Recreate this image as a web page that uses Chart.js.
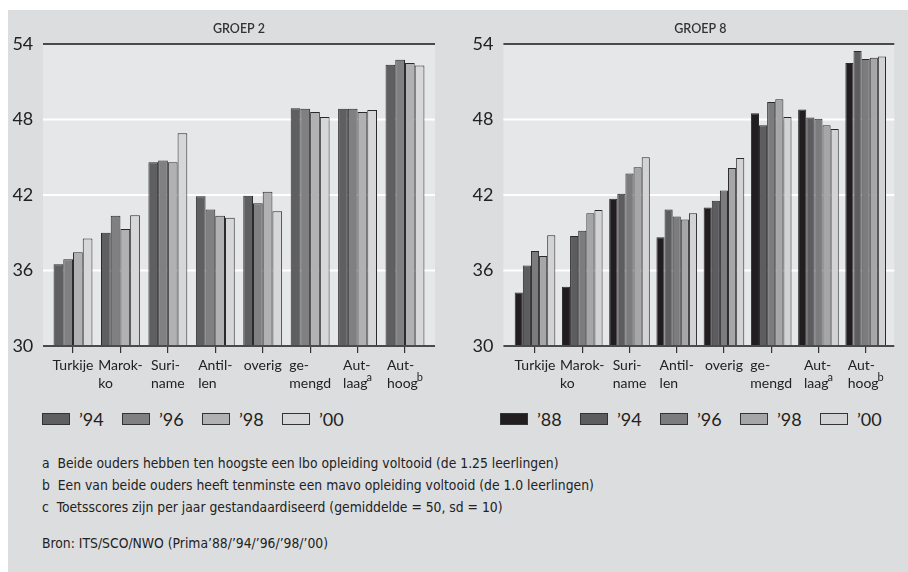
<!DOCTYPE html>
<html>
<head>
<meta charset="utf-8">
<script src="https://cdn.jsdelivr.net/npm/chart.js@4.4.1/dist/chart.umd.min.js"></script>
<style>
  html, body { margin: 0; padding: 0; background: #fff; }
  body { width: 908px; height: 572px; position: relative; overflow: hidden; font-family: Lato, sans-serif; color: #222; }
  #panel { position: absolute; left: 8px; top: 10px; right: 0; bottom: 0; background: #dcdddf; }
  .wrap { position: absolute; top: 0; width: 454px; height: 400px; }
  #wrap2 { left: 0; }
  #wrap8 { left: 454px; }
  .legend { position: absolute; top: 408px; display: flex; font-size: 18px; line-height: 22px; }
  .legend .item { display: flex; align-items: center; width: 80px; }
  .legend .box { width: 26px; height: 10px; border: 1px solid #333; margin-right: 9px; }
  #legend2 { left: 42px; }
  #legend8 { left: 500px; }
  .notes { position: absolute; left: 42px; font-family: "Liberation Sans Narrow", "DejaVu Sans Condensed", sans-serif; font-size: 14.5px; color: #222; white-space: nowrap; transform: scaleX(0.95); transform-origin: left center; }
</style>
</head>
<body>
<div id="panel"></div>
<div class="wrap" id="wrap2"><canvas id="groep2"></canvas></div>
<div class="wrap" id="wrap8"><canvas id="groep8"></canvas></div>
<div class="legend" id="legend2"></div>
<div class="legend" id="legend8"></div>
<div class="notes" style="top:455px">a&nbsp; Beide ouders hebben ten hoogste een lbo opleiding voltooid (de 1.25 leerlingen)</div>
<div class="notes" style="top:477px">b&nbsp; Een van beide ouders heeft tenminste een mavo opleiding voltooid (de 1.0 leerlingen)</div>
<div class="notes" style="top:499px">c&nbsp; Toetsscores zijn per jaar gestandaardiseerd (gemiddelde = 50, sd = 10)</div>
<div class="notes" style="top:535px">Bron: ITS/SCO/NWO (Prima’88/’94/’96/’98/’00)</div>
<script>
const categories = ['Turkije', 'Marok-\nko', 'Suri-\nname', 'Antil-\nlen', 'overig', 'ge-\nmengd', 'Aut-\nlaag^a', 'Aut-\nhoog^b'];
const yMin = 30;
const yMax = 54;
const yStep = 6;

// groep 2
const g2Years = ['’94', '’96', '’98', '’00'];
const g2_94 = [36.5, 39.0, 44.6, 41.9, 41.95, 48.9, 48.85, 52.35];
const g2_96 = [36.9, 40.35, 44.75, 40.85, 41.35, 48.85, 48.85, 52.75];
const g2_98 = [37.45, 39.3, 44.6, 40.35, 42.25, 48.6, 48.6, 52.5];
const g2_00 = [38.55, 40.4, 46.9, 40.2, 40.7, 48.2, 48.75, 52.3];
const g2Colors = ['#5f5f61', '#808083', '#b1b1b3', '#d7d7d9'];

// groep 8
const g8Years = ['’88', '’94', '’96', '’98', '’00'];
const g8_88 = [34.25, 34.7, 41.7, 38.65, 41.0, 48.5, 48.8, 52.5];
const g8_94 = [36.4, 38.75, 42.1, 40.85, 41.55, 47.55, 48.15, 53.45];
const g8_96 = [37.55, 39.15, 43.7, 40.3, 42.35, 49.4, 48.05, 52.8];
const g8_98 = [37.15, 40.55, 44.2, 40.05, 44.15, 49.6, 47.55, 52.9];
const g8_00 = [38.8, 40.8, 45.0, 40.55, 44.95, 48.2, 47.25, 53.0];
const g8Colors = ['#221e1f', '#5d5d5f', '#7c7c7f', '#a6a6a8', '#d3d3d5'];

const PLOT_BG = '#e6e7e9';
const DARK = '#4a4a4a';

// plot background + horizontal lines, a bit wider than the category area
const panelPlugin = {
  id: 'panel',
  beforeDatasetsDraw(chart, args, opts) {
    const { ctx, chartArea: a, scales: { y } } = chart;
    const l = a.left - opts.extLeft, r = a.right + opts.extRight;
    ctx.save();
    ctx.fillStyle = PLOT_BG;
    ctx.fillRect(l, a.top, r - l, a.bottom - a.top);
    y.ticks.forEach(t => {
      if (t.value === y.min) return;
      const py = y.getPixelForValue(t.value);
      ctx.strokeStyle = t.value === y.max ? DARK : '#fff';
      ctx.lineWidth = 2.2;
      ctx.beginPath();
      ctx.moveTo(l, py);
      ctx.lineTo(r, py);
      ctx.stroke();
    });
    ctx.restore();
  },
  afterDatasetsDraw(chart, args, opts) {
    const { ctx, chartArea: a, scales: { y } } = chart;
    const py = y.getPixelForValue(y.min);
    ctx.save();
    ctx.strokeStyle = DARK;
    ctx.lineWidth = 2;
    ctx.beginPath();
    ctx.moveTo(a.left - opts.extLeft, py);
    ctx.lineTo(a.right + opts.extRight, py);
    ctx.stroke();
    ctx.restore();
  }
};

// two-line category labels, lines left aligned, block centred on the tick
const labelPlugin = {
  id: 'catLabels',
  afterDraw(chart) {
    const { ctx, chartArea: a, scales: { x } } = chart;
    ctx.save();
    ctx.fillStyle = '#222';
    ctx.textBaseline = 'middle';
    ctx.textAlign = 'left';
    const font = '14px Lato';
    const supFont = '11px Lato';
    chart.data.labels.forEach((label, i) => {
      const lines = label.split('\n').map(s => s.split('^'));
      const widths = lines.map(([txt, sup]) => {
        ctx.font = font;
        let w = ctx.measureText(txt).width;
        if (sup) { ctx.font = supFont; w += ctx.measureText(sup).width - 1; }
        return w;
      });
      const px = x.getPixelForTick(i);
      const x0 = px - Math.max(...widths) / 2;
      lines.forEach(([txt, sup], k) => {
        const py = a.bottom + 19 + k * 18;
        ctx.font = font;
        ctx.fillText(txt, x0, py);
        if (sup) {
          const tw = ctx.measureText(txt).width;
          ctx.font = supFont;
          ctx.fillText(sup, x0 + tw - 1, py - 6);
        }
      });
    });
    ctx.restore();
  }
};

function makeChart(id, title, years, series, colors, axisWidth, padRight, extLeft, extRight, catPct, tickPad) {
  const datasets = series.map((data, i) => ({
    label: years[i],
    data,
    backgroundColor: colors[i],
    borderColor: '#2a2a2a',
    borderWidth: 1,
    barPercentage: 1,
    categoryPercentage: catPct
  }));
  return new Chart(document.getElementById(id), {
    type: 'bar',
    data: { labels: categories, datasets },
    plugins: [panelPlugin, labelPlugin],
    options: {
      responsive: true,
      maintainAspectRatio: false,
      animation: false,
      layout: { padding: { left: 0, right: padRight, top: 0, bottom: 0 } },
      plugins: {
        legend: { display: false },
        tooltip: { enabled: false },
        panel: { extLeft, extRight },
        title: {
          display: true,
          text: title,
          fullSize: false,
          color: '#333',
          font: { family: 'Lato', size: 12.5, weight: '600' },
          padding: { top: 21, bottom: 8 }
        }
      },
      scales: {
        x: {
          grid: { display: true, drawOnChartArea: false, drawTicks: true, tickLength: 7, offset: false, color: '#333', lineWidth: 1.2 },
          border: { display: false },
          ticks: { display: false },
          afterFit(scale) { scale.height = 54; }
        },
        y: {
          min: yMin,
          max: yMax,
          ticks: { stepSize: yStep, padding: tickPad, color: '#222', font: { family: 'Lato', size: 18 } },
          grid: { display: false, drawTicks: false },
          border: { display: false },
          afterFit(scale) { scale.width = axisWidth; }
        }
      }
    }
  });
}

function buildLegend(chart, elId) {
  const el = document.getElementById(elId);
  chart.data.datasets.forEach(ds => {
    const item = document.createElement('div');
    item.className = 'item';
    const box = document.createElement('span');
    box.className = 'box';
    box.style.background = ds.backgroundColor;
    const txt = document.createElement('span');
    txt.textContent = ds.label;
    item.appendChild(box);
    item.appendChild(txt);
    el.appendChild(item);
  });
}

const chart2 = makeChart('groep2', 'GROEP 2', g2Years, [g2_94, g2_96, g2_98, g2_00], g2Colors, 49.3, 25.3, 6.3, 6.3, 0.82, 16);
const chart8 = makeChart('groep8', 'GROEP 8', g8Years, [g8_88, g8_94, g8_96, g8_98, g8_00], g8Colors, 57.4, 18.7, 8, 5, 0.86, 18);
buildLegend(chart2, 'legend2');
buildLegend(chart8, 'legend8');
</script>
</body>
</html>
